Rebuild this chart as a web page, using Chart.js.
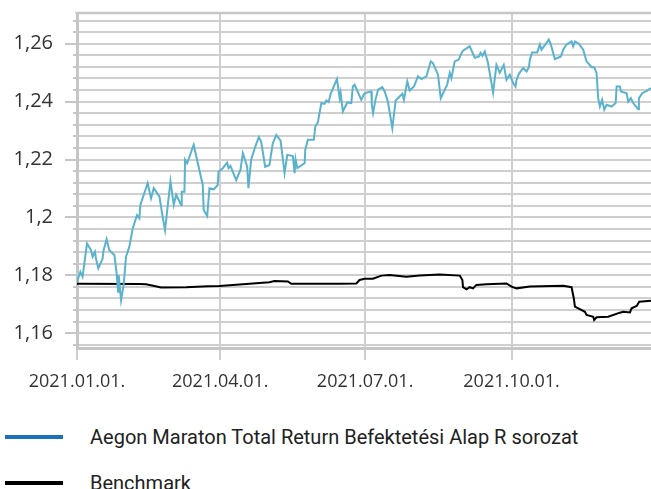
<!DOCTYPE html>
<html>
<head>
<meta charset="utf-8">
<script src="https://cdn.jsdelivr.net/npm/chart.js@4.4.1/dist/chart.umd.min.js"></script>
<style>
  body { margin: 0; background: #fff; }
  #wrap { position: relative; width: 651px; height: 489px; overflow: hidden; }
  #chart { position: absolute; left: 0; top: 0; }
  .legend-row { position: absolute; left: 0; height: 24px; width: 651px;
    font-family: "Roboto", sans-serif; font-size: 20px; color: #222; }
  .legend-row .swatch { position: absolute; left: 5px; top: 10px; width: 58px; height: 4px; }
  .legend-row .txt { position: absolute; left: 90px; top: 0; line-height: 24px; white-space: nowrap; }
</style>
</head>
<body>
<div id="wrap">
  <canvas id="chart" width="651" height="400"></canvas>
  <div id="legend"></div>
</div>
<script>
const fundLabel = 'Aegon Maraton Total Return Befektetési Alap R sorozat';
const benchLabel = 'Benchmark';

// x values are days counted from 2021.01.01.
const fundDays = [0, 2.1, 3.5, 6.3, 8.8, 9.8, 11.3, 11.9, 13.4, 16.1, 16.7, 18.6, 20.3, 23.5, 24.9, 25.8, 26.2, 27.7, 29.3, 30.8,
  32.9, 35.0, 37.7, 39.2, 39.8, 44.4, 46.5, 48.2, 51.8, 53.8, 55.3, 58.7, 60.8, 62.3, 65.4, 65.8, 67.5, 67.9, 69.2, 73.3,
  79.0, 79.6, 81.8, 83.2, 85.9, 88.4, 88.9, 91.6, 94.3, 95.2, 96.4, 100.0, 102.7, 104.2, 106.9, 107.7, 109.4, 111.9, 114.2, 115.7,
  118.2, 120.9, 123.0, 125.2, 127.9, 130.4, 132.1, 135.6, 136.7, 137.3, 138.4, 143.0, 143.4, 145.0, 148.8, 149.7, 151.3, 153.5, 155.5, 156.6,
  158.1, 159.3, 163.3, 165.0, 165.6, 167.0, 169.8, 172.3, 173.3, 174.4, 178.6, 180.3, 181.8, 184.9, 185.2, 186.0, 187.5, 189.1, 191.8, 193.3,
  195.3, 198.1, 200.2, 204.4, 205.4, 207.5, 209.0, 211.7, 214.2, 216.4, 219.5, 222.2, 223.6, 226.8, 228.5, 232.5, 234.2, 235.2, 237.3, 239.8,
  241.1, 242.5, 246.7, 249.9, 252.6, 253.5, 254.7, 256.2, 258.2, 261.4, 263.5, 265.6, 268.1, 269.8, 271.9, 274.0, 275.5, 276.1, 277.6, 280.3,
  282.4, 283.9, 284.5, 285.9, 289.1, 290.8, 291.8, 296.4, 297.7, 300.2, 304.0, 305.4, 307.5, 310.7, 311.7, 312.8, 315.3, 318.0, 320.1, 323.3,
  324.9, 326.4, 327.4, 328.5, 329.9, 331.2, 332.7, 335.8, 338.4, 339.0, 341.1, 341.7, 345.3, 346.3, 348.0, 349.4, 352.6, 353.0, 355.1, 357.9, 360.6];
const fundValues = [1.1778, 1.1812, 1.1795, 1.1910, 1.1887, 1.1864, 1.1881, 1.1858, 1.1824, 1.1858, 1.1887, 1.1925, 1.1887, 1.1870, 1.1807, 1.1743, 1.1801, 1.1714, 1.1766, 1.1864,
  1.1899, 1.1962, 1.2008, 1.1997, 1.2043, 1.2118, 1.2066, 1.2101, 1.2072, 1.2002, 1.1956, 1.2124, 1.2043, 1.2078, 1.2043, 1.2089, 1.2089, 1.2199, 1.2187, 1.2251,
  1.2112, 1.2026, 1.2005, 1.2101, 1.2097, 1.2112, 1.2158, 1.2170, 1.2189, 1.2170, 1.2178, 1.2129, 1.2164, 1.2222, 1.2175, 1.2101, 1.2199, 1.2243, 1.2277, 1.2262,
  1.2175, 1.2181, 1.2256, 1.2285, 1.2265, 1.2153, 1.2216, 1.2212, 1.2153, 1.2201, 1.2170, 1.2187, 1.2233, 1.2268, 1.2268, 1.2314, 1.2328, 1.2395, 1.2392, 1.2404,
  1.2398, 1.2426, 1.2478, 1.2412, 1.2431, 1.2366, 1.2397, 1.2395, 1.2452, 1.2458, 1.2406, 1.2426, 1.2431, 1.2435, 1.2389, 1.2360, 1.2406, 1.2441, 1.2450, 1.2435,
  1.2400, 1.2308, 1.2404, 1.2427, 1.2406, 1.2470, 1.2438, 1.2452, 1.2487, 1.2478, 1.2487, 1.2539, 1.2533, 1.2493, 1.2412, 1.2458, 1.2499, 1.2481, 1.2539, 1.2545,
  1.2562, 1.2576, 1.2591, 1.2551, 1.2556, 1.2568, 1.2558, 1.2573, 1.2533, 1.2431, 1.2527, 1.2499, 1.2527, 1.2475, 1.2493, 1.2464, 1.2452, 1.2475, 1.2496, 1.2516,
  1.2504, 1.2519, 1.2545, 1.2570, 1.2570, 1.2597, 1.2579, 1.2614, 1.2597, 1.2547, 1.2556, 1.2579, 1.2597, 1.2608, 1.2591, 1.2608, 1.2600, 1.2579, 1.2539, 1.2519,
  1.2519, 1.2499, 1.2412, 1.2383, 1.2406, 1.2372, 1.2389, 1.2383, 1.2395, 1.2452, 1.2452, 1.2435, 1.2429, 1.2400, 1.2412, 1.2395, 1.2374, 1.2412, 1.2429, 1.2437, 1.2447];

const benchDays = [0, 39.2, 43.4, 48.6, 52.8, 68.6, 82.1, 89.5, 120.9, 124.1, 132.5, 134.6, 165.0, 175.5, 177.5, 180.7, 185.9, 191.2, 196.4, 206.9,
  215.3, 227.9, 240.5, 242.1, 242.5, 244.7, 246.7, 248.8, 250.9, 257.2, 269.8, 273.0, 276.1, 284.5, 305.4, 310.7, 312.1, 312.8, 319.1, 320.1,
  324.3, 324.9, 326.4, 333.7, 341.1, 343.1, 347.4, 348.4, 351.6, 353.2, 360.6];
const benchValues = [1.1771, 1.1770, 1.1769, 1.1763, 1.1758, 1.1759, 1.1762, 1.1763, 1.1776, 1.1780, 1.1779, 1.1771, 1.1771, 1.1772, 1.1784, 1.1788, 1.1788, 1.1799, 1.1801, 1.1795,
  1.1799, 1.1803, 1.1799, 1.1784, 1.1759, 1.1752, 1.1759, 1.1755, 1.1767, 1.1769, 1.1772, 1.1761, 1.1755, 1.1761, 1.1764, 1.1759, 1.1721, 1.1692, 1.1674, 1.1663,
  1.1657, 1.1646, 1.1655, 1.1657, 1.1671, 1.1674, 1.1672, 1.1686, 1.1694, 1.1709, 1.1712];

const xTickDays = [0, 90, 181, 273];
const xTickLabels = ['2021.01.01.', '2021.04.01.', '2021.07.01.', '2021.10.01.'];
const yMin = 1.1549;
const yMax = 1.2706;
const xMax = 360.6;

const fundColor = '#5ab3cd';
const fundLegendColor = '#1a73ba';
const benchColor = '#000000';
const gridColor = '#cfcfcf';
const axisColor = '#c6c6c6';

// minor grid every 0.004, labels every 0.02
const yTickValues = [];
for (let i = 0; i <= 28; i++) yTickValues.push(Math.round((1.156 + i * 0.004) * 1000) / 1000);

function isMajor(v) {
  return Math.round(v * 1000) % 20 === 0;
}

// short tick marks on the minor grid lines + top frame line
const axisExtras = {
  id: 'axisExtras',
  afterDraw(chart) {
    const { ctx, chartArea } = chart;
    const y = chart.scales.y;
    ctx.save();
    ctx.strokeStyle = axisColor;
    ctx.lineWidth = 2;
    y.ticks.forEach(t => {
      if (isMajor(t.value)) return;
      const py = Math.round(y.getPixelForValue(t.value));
      ctx.beginPath();
      ctx.moveTo(chartArea.left - 4, py);
      ctx.lineTo(chartArea.left, py);
      ctx.stroke();
    });
    ctx.lineWidth = 2.5;
    ctx.beginPath();
    ctx.moveTo(chartArea.left - 1.5, chartArea.top);
    ctx.lineTo(chartArea.right, chartArea.top);
    ctx.stroke();
    ctx.restore();
  }
};

new Chart(document.getElementById('chart'), {
  type: 'line',
  data: {
    datasets: [{
      label: fundLabel,
      data: fundDays.map((d, i) => ({ x: d, y: fundValues[i] })),
      borderColor: fundColor,
      borderWidth: 2,
      pointRadius: 0,
      tension: 0
    }, {
      label: benchLabel,
      data: benchDays.map((d, i) => ({ x: d, y: benchValues[i] })),
      borderColor: benchColor,
      borderWidth: 2,
      pointRadius: 0,
      tension: 0
    }]
  },
  options: {
    responsive: false,
    animation: false,
    devicePixelRatio: 1,
    layout: { padding: { top: 13, left: 0, right: 0, bottom: 0 } },
    plugins: {
      legend: { display: false },
      tooltip: { enabled: false }
    },
    scales: {
      x: {
        type: 'linear',
        min: 0,
        max: xMax,
        afterBuildTicks: s => { s.ticks = xTickDays.map(v => ({ value: v })); },
        afterFit: s => { s.height = 52; s.paddingLeft = 0; s.paddingRight = 0; },
        ticks: {
          autoSkip: false,
          maxRotation: 0,
          padding: 11,
          color: '#333',
          font: { family: 'Open Sans', size: 18 },
          callback: (v, i) => xTickLabels[i]
        },
        grid: { color: gridColor, lineWidth: 2, tickLength: 12 },
        border: { color: axisColor, width: 3 }
      },
      y: {
        type: 'linear',
        min: yMin,
        max: yMax,
        afterBuildTicks: s => { s.ticks = yTickValues.map(v => ({ value: v })); },
        afterFit: s => { s.width = 77; s.paddingTop = 0; s.paddingBottom = 0; },
        ticks: {
          autoSkip: false,
          padding: 12,
          color: '#333',
          font: { family: 'Open Sans', size: 20 },
          callback: v => isMajor(v) ? String(+v.toFixed(2)).replace('.', ',') : ' '
        },
        grid: {
          color: gridColor,
          lineWidth: 2,
          tickLength: 12,
          tickWidth: 2,
          tickColor: ctx => ctx.tick && isMajor(ctx.tick.value) ? axisColor : 'rgba(0,0,0,0)'
        },
        border: { color: axisColor, width: 3 }
      }
    }
  },
  plugins: [axisExtras]
});

// legend below the chart, one row per series
const legendItems = [
  { label: fundLabel, color: fundLegendColor, top: 425 },
  { label: benchLabel, color: benchColor, top: 471 }
];
const legendEl = document.getElementById('legend');
legendItems.forEach(item => {
  const row = document.createElement('div');
  row.className = 'legend-row';
  row.style.top = item.top + 'px';
  const sw = document.createElement('div');
  sw.className = 'swatch';
  sw.style.background = item.color;
  const txt = document.createElement('div');
  txt.className = 'txt';
  txt.textContent = item.label;
  row.appendChild(sw);
  row.appendChild(txt);
  legendEl.appendChild(row);
});
</script>
</body>
</html>
